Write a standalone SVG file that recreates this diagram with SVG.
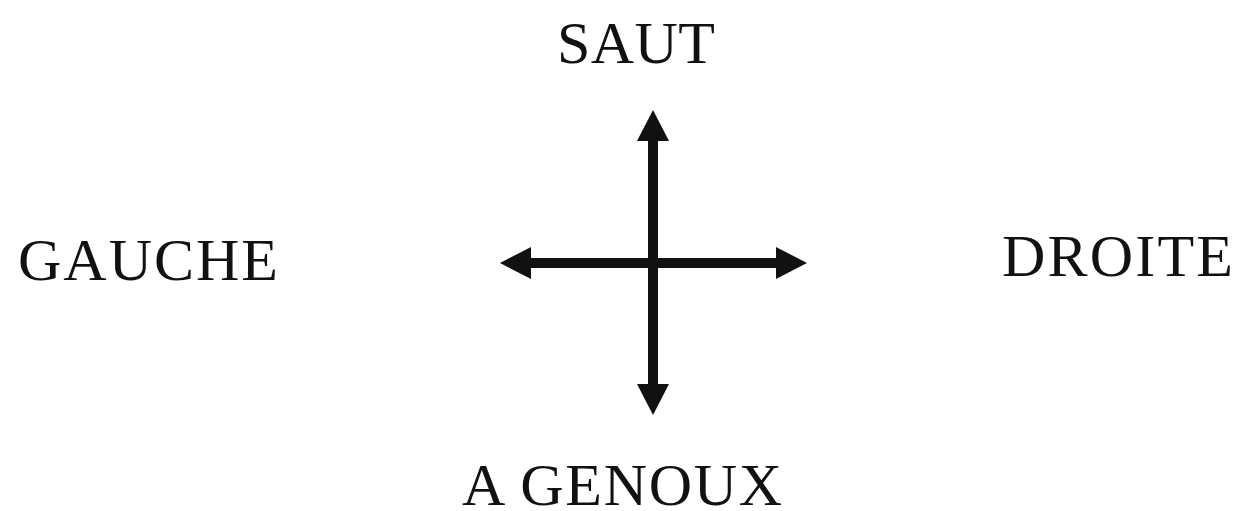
<svg xmlns="http://www.w3.org/2000/svg" width="1239" height="511" viewBox="0 0 1239 511">
<style>
.lbl{font-family:"Liberation Serif","Times New Roman",serif;font-size:60px;fill:#111}
.ax{stroke:#111;stroke-width:10;fill:none}
.hd{fill:#111}
</style>
<rect width="1239" height="511" fill="#fff"/>
<g id="connectors">
<line class="ax" x1="653" y1="135" x2="653" y2="390"/>
<line class="ax" x1="525" y1="263" x2="782" y2="263"/>
<polygon class="hd" points="653,110 669,141 637,141"/>
<polygon class="hd" points="653,415 669,384 637,384"/>
<polygon class="hd" points="500,263 531,247 531,279"/>
<polygon class="hd" points="807,263 776,247 776,279"/>
</g>
<g id="saut"><text class="lbl" x="557" y="63" textLength="158">SAUT</text></g>
<g id="gauche"><text class="lbl" x="18" y="280" textLength="260">GAUCHE</text></g>
<g id="droite"><text class="lbl" x="1002" y="276" textLength="231">DROITE</text></g>
<g id="agenoux"><text class="lbl" x="462" y="505" textLength="320">A GENOUX</text></g>
</svg>
